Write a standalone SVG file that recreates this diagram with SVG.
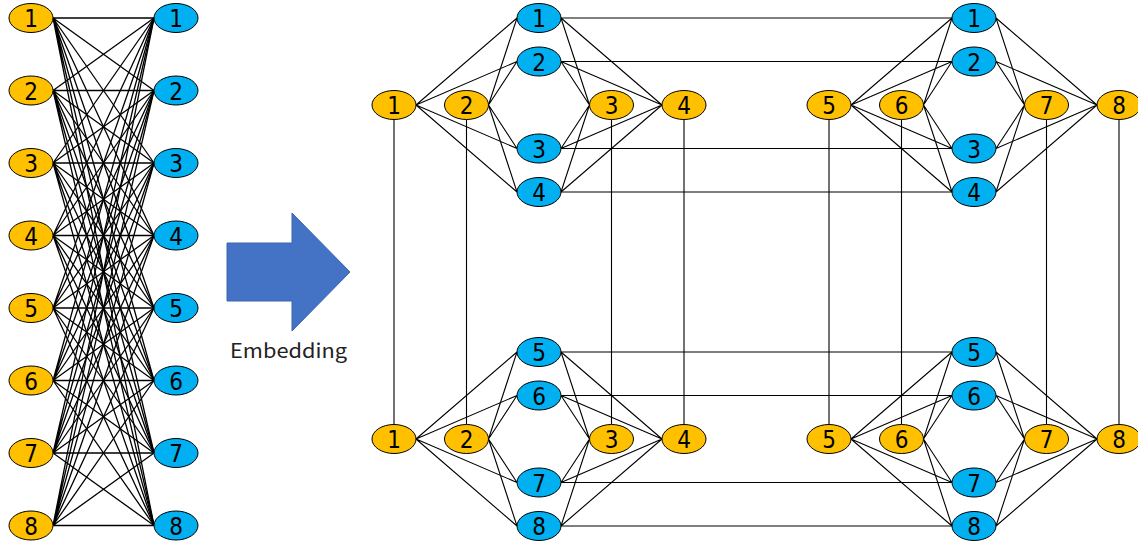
<svg xmlns="http://www.w3.org/2000/svg" xmlns:xlink="http://www.w3.org/1999/xlink" width="1138" height="547" viewBox="0 0 1138 547">
<style>
.e{stroke:#000;stroke-width:1.1;fill:none}
.k{stroke-width:1.3}
.o{fill:#FFC000;stroke:#000;stroke-width:1}
.b{fill:#00B0F0;stroke:#000;stroke-width:1}
.t{font-family:"DejaVu Sans Condensed","DejaVu Sans",sans-serif;font-stretch:condensed;font-size:24px;text-anchor:middle;fill:#000}
.lbl{font-family:"Noto Sans CJK JP","Noto Sans",sans-serif;font-size:20px;fill:#222}
</style>
<defs>
<path id="mod" d="M22 0L123 -87M22 0L123 -43.5M22 0L123 43.5M22 0L123 87M94.5 0L123 -87M94.5 0L123 -43.5M94.5 0L123 43.5M94.5 0L123 87M167 -87L195.5 0M167 -43.5L195.5 0M167 43.5L195.5 0M167 87L195.5 0M167 -87L268 0M167 -43.5L268 0M167 43.5L268 0M167 87L268 0"/>
<ellipse id="eo" class="o" rx="22" ry="14.5"/>
<ellipse id="eb" class="b" rx="22" ry="14.5"/>
</defs>
<rect width="1138" height="547" fill="#fff"/>
<g id="connectors" class="e">
<g class="k">
<path d="M53 18L154 18M53 18L154 90.5M53 18L154 163M53 18L154 235.5M53 18L154 308M53 18L154 380.5M53 18L154 453M53 18L154 525.5"/>
<path d="M53 90.5L154 18M53 90.5L154 90.5M53 90.5L154 163M53 90.5L154 235.5M53 90.5L154 308M53 90.5L154 380.5M53 90.5L154 453M53 90.5L154 525.5"/>
<path d="M53 163L154 18M53 163L154 90.5M53 163L154 163M53 163L154 235.5M53 163L154 308M53 163L154 380.5M53 163L154 453M53 163L154 525.5"/>
<path d="M53 235.5L154 18M53 235.5L154 90.5M53 235.5L154 163M53 235.5L154 235.5M53 235.5L154 308M53 235.5L154 380.5M53 235.5L154 453M53 235.5L154 525.5"/>
<path d="M53 308L154 18M53 308L154 90.5M53 308L154 163M53 308L154 235.5M53 308L154 308M53 308L154 380.5M53 308L154 453M53 308L154 525.5"/>
<path d="M53 380.5L154 18M53 380.5L154 90.5M53 380.5L154 163M53 380.5L154 235.5M53 380.5L154 308M53 380.5L154 380.5M53 380.5L154 453M53 380.5L154 525.5"/>
<path d="M53 453L154 18M53 453L154 90.5M53 453L154 163M53 453L154 235.5M53 453L154 308M53 453L154 380.5M53 453L154 453M53 453L154 525.5"/>
<path d="M53 525.5L154 18M53 525.5L154 90.5M53 525.5L154 163M53 525.5L154 235.5M53 525.5L154 308M53 525.5L154 380.5M53 525.5L154 453M53 525.5L154 525.5"/>
</g>
<use xlink:href="#mod" transform="translate(394,105)"/>
<use xlink:href="#mod" transform="translate(829,105)"/>
<use xlink:href="#mod" transform="translate(394,439)"/>
<use xlink:href="#mod" transform="translate(829,439)"/>
<path d="M561 18H952M561 61.5H952M561 148.5H952M561 192H952M561 352H952M561 395.5H952M561 482.5H952M561 526H952"/>
<path d="M394 119.5V424.5M466.5 119.5V424.5M611.5 119.5V424.5M684 119.5V424.5M829 119.5V424.5M901.5 119.5V424.5M1046.5 119.5V424.5M1119 119.5V424.5"/>
</g>
<g id="arrow">
<polygon points="227,243 292,243 292,213 350,272 292,331 292,301 227,301" fill="#4472C4" stroke="#3A64AE" stroke-width="1"/>
<text class="lbl" x="230" y="358" textLength="117" lengthAdjust="spacingAndGlyphs">Embedding</text>
</g>
<g id="left-orange">
<g id="lo1"><use xlink:href="#eo" x="31" y="18"/><text class="t" x="31" y="27">1</text></g>
<g id="lo2"><use xlink:href="#eo" x="31" y="90.5"/><text class="t" x="31" y="99.5">2</text></g>
<g id="lo3"><use xlink:href="#eo" x="31" y="163"/><text class="t" x="31" y="172">3</text></g>
<g id="lo4"><use xlink:href="#eo" x="31" y="235.5"/><text class="t" x="31" y="244.5">4</text></g>
<g id="lo5"><use xlink:href="#eo" x="31" y="308"/><text class="t" x="31" y="317">5</text></g>
<g id="lo6"><use xlink:href="#eo" x="31" y="380.5"/><text class="t" x="31" y="389.5">6</text></g>
<g id="lo7"><use xlink:href="#eo" x="31" y="453"/><text class="t" x="31" y="462">7</text></g>
<g id="lo8"><use xlink:href="#eo" x="31" y="525.5"/><text class="t" x="31" y="534.5">8</text></g>
</g>
<g id="left-blue">
<g id="lb1"><use xlink:href="#eb" x="176" y="18"/><text class="t" x="176" y="27">1</text></g>
<g id="lb2"><use xlink:href="#eb" x="176" y="90.5"/><text class="t" x="176" y="99.5">2</text></g>
<g id="lb3"><use xlink:href="#eb" x="176" y="163"/><text class="t" x="176" y="172">3</text></g>
<g id="lb4"><use xlink:href="#eb" x="176" y="235.5"/><text class="t" x="176" y="244.5">4</text></g>
<g id="lb5"><use xlink:href="#eb" x="176" y="308"/><text class="t" x="176" y="317">5</text></g>
<g id="lb6"><use xlink:href="#eb" x="176" y="380.5"/><text class="t" x="176" y="389.5">6</text></g>
<g id="lb7"><use xlink:href="#eb" x="176" y="453"/><text class="t" x="176" y="462">7</text></g>
<g id="lb8"><use xlink:href="#eb" x="176" y="525.5"/><text class="t" x="176" y="534.5">8</text></g>
</g>
<g id="top-left-module">
<g id="tl-o1"><use xlink:href="#eo" x="394" y="105"/><text class="t" x="394" y="114">1</text></g>
<g id="tl-o2"><use xlink:href="#eo" x="466.5" y="105"/><text class="t" x="466.5" y="114">2</text></g>
<g id="tl-o3"><use xlink:href="#eo" x="611.5" y="105"/><text class="t" x="611.5" y="114">3</text></g>
<g id="tl-o4"><use xlink:href="#eo" x="684" y="105"/><text class="t" x="684" y="114">4</text></g>
<g id="tl-b1"><use xlink:href="#eb" x="539" y="18"/><text class="t" x="539" y="27">1</text></g>
<g id="tl-b2"><use xlink:href="#eb" x="539" y="61.5"/><text class="t" x="539" y="70.5">2</text></g>
<g id="tl-b3"><use xlink:href="#eb" x="539" y="148.5"/><text class="t" x="539" y="157.5">3</text></g>
<g id="tl-b4"><use xlink:href="#eb" x="539" y="192"/><text class="t" x="539" y="201">4</text></g>
</g>
<g id="top-right-module">
<g id="tr-o5"><use xlink:href="#eo" x="829" y="105"/><text class="t" x="829" y="114">5</text></g>
<g id="tr-o6"><use xlink:href="#eo" x="901.5" y="105"/><text class="t" x="901.5" y="114">6</text></g>
<g id="tr-o7"><use xlink:href="#eo" x="1046.5" y="105"/><text class="t" x="1046.5" y="114">7</text></g>
<g id="tr-o8"><use xlink:href="#eo" x="1119" y="105"/><text class="t" x="1119" y="114">8</text></g>
<g id="tr-b1"><use xlink:href="#eb" x="974" y="18"/><text class="t" x="974" y="27">1</text></g>
<g id="tr-b2"><use xlink:href="#eb" x="974" y="61.5"/><text class="t" x="974" y="70.5">2</text></g>
<g id="tr-b3"><use xlink:href="#eb" x="974" y="148.5"/><text class="t" x="974" y="157.5">3</text></g>
<g id="tr-b4"><use xlink:href="#eb" x="974" y="192"/><text class="t" x="974" y="201">4</text></g>
</g>
<g id="bottom-left-module">
<g id="bl-o1"><use xlink:href="#eo" x="394" y="439"/><text class="t" x="394" y="448">1</text></g>
<g id="bl-o2"><use xlink:href="#eo" x="466.5" y="439"/><text class="t" x="466.5" y="448">2</text></g>
<g id="bl-o3"><use xlink:href="#eo" x="611.5" y="439"/><text class="t" x="611.5" y="448">3</text></g>
<g id="bl-o4"><use xlink:href="#eo" x="684" y="439"/><text class="t" x="684" y="448">4</text></g>
<g id="bl-b5"><use xlink:href="#eb" x="539" y="352"/><text class="t" x="539" y="361">5</text></g>
<g id="bl-b6"><use xlink:href="#eb" x="539" y="395.5"/><text class="t" x="539" y="404.5">6</text></g>
<g id="bl-b7"><use xlink:href="#eb" x="539" y="482.5"/><text class="t" x="539" y="491.5">7</text></g>
<g id="bl-b8"><use xlink:href="#eb" x="539" y="526"/><text class="t" x="539" y="535">8</text></g>
</g>
<g id="bottom-right-module">
<g id="br-o5"><use xlink:href="#eo" x="829" y="439"/><text class="t" x="829" y="448">5</text></g>
<g id="br-o6"><use xlink:href="#eo" x="901.5" y="439"/><text class="t" x="901.5" y="448">6</text></g>
<g id="br-o7"><use xlink:href="#eo" x="1046.5" y="439"/><text class="t" x="1046.5" y="448">7</text></g>
<g id="br-o8"><use xlink:href="#eo" x="1119" y="439"/><text class="t" x="1119" y="448">8</text></g>
<g id="br-b5"><use xlink:href="#eb" x="974" y="352"/><text class="t" x="974" y="361">5</text></g>
<g id="br-b6"><use xlink:href="#eb" x="974" y="395.5"/><text class="t" x="974" y="404.5">6</text></g>
<g id="br-b7"><use xlink:href="#eb" x="974" y="482.5"/><text class="t" x="974" y="491.5">7</text></g>
<g id="br-b8"><use xlink:href="#eb" x="974" y="526"/><text class="t" x="974" y="535">8</text></g>
</g>
</svg>
